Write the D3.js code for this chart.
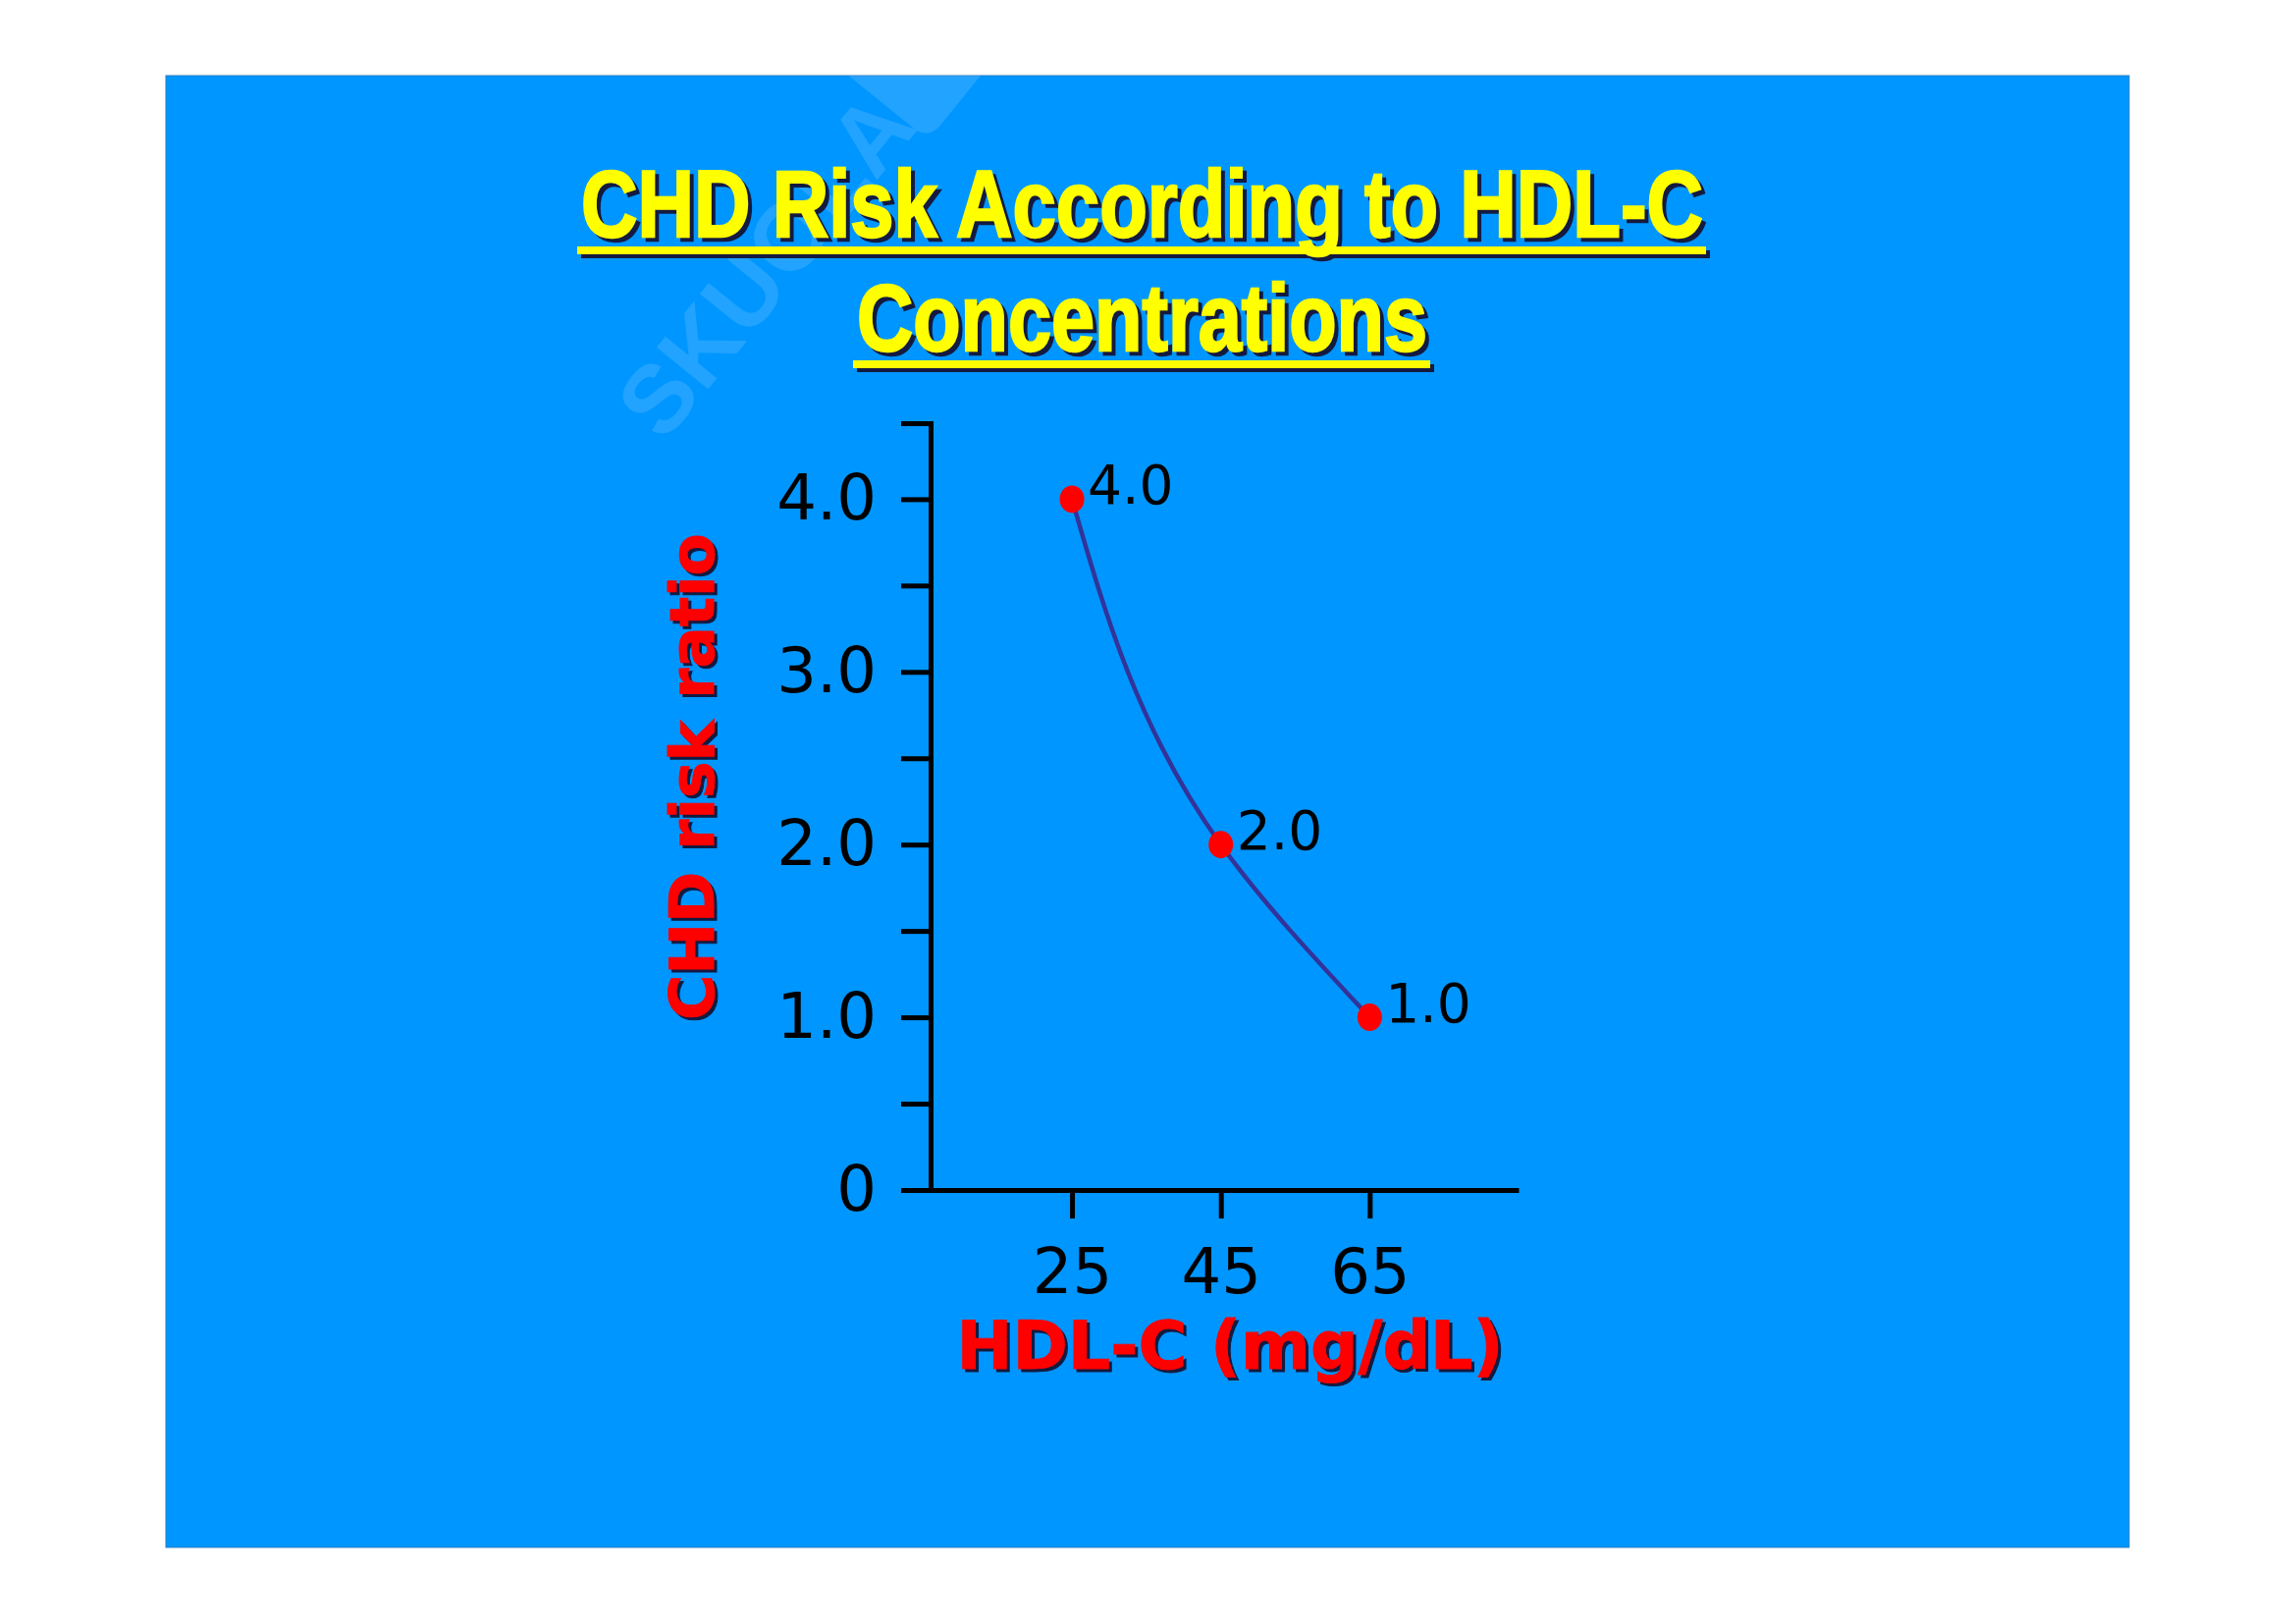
<!DOCTYPE html>
<html>
<head>
<meta charset="utf-8">
<script src="https://cdn.jsdelivr.net/npm/d3@7"></script>
<style>
  body { margin: 0; background: #fff; }
</style>
</head>
<body>
<div id="chart"></div>
<script>
const W = 2339, H = 1653;

// data
const hdl = [25, 45, 65];
const risk = [4.0, 2.0, 1.0];
const pointLabels = ["4.0", "2.0", "1.0"];
const yTicks = [0, 0.5, 1, 1.5, 2, 2.5, 3, 3.5, 4];
const yLabels = {0: "0", 1: "1.0", 2: "2.0", 3: "3.0", 4: "4.0"};
const xTicks = [25, 45, 65];
const titleLines = ["CHD Risk According to HDL-C", "Concentrations"];

const blue = "#0096ff";
const shadow = "#141a40";

let svg = d3.select("#chart")
  .append("svg")
    .attr("width", W)
    .attr("height", H)
    .attr("style", "background-color: #ffffff");

svg.append("clipPath").attr("id", "slideClip")
  .append("rect")
    .attr("x", 169).attr("y", 77)
    .attr("width", 2000).attr("height", 1499);

// slide background
svg.append("rect")
  .attr("x", 169).attr("y", 77)
  .attr("width", 2000).attr("height", 1499)
  .attr("fill", blue)
  .attr("stroke", "#2f7fc0")
  .attr("stroke-width", 1);

// faint watermark
let wm = svg.append("g")
  .attr("clip-path", "url(#slideClip)")
  .append("g")
  .attr("transform", "translate(676,452) rotate(-51)")
  .attr("opacity", 0.13);
wm.append("text")
  .text("SKUOLA")
  .attr("font-family", "Liberation Sans, Arial, sans-serif")
  .attr("font-weight", "bold")
  .attr("font-size", 98)
  .attr("fill", "#fff");
wm.append("rect")
  .attr("x", 410).attr("y", -110)
  .attr("width", 150).attr("height", 125)
  .attr("rx", 18)
  .attr("fill", "#fff");

// title, yellow with dark drop shadow and underline
const titleSpecs = [
  {x0: 592, x1: 1735, base: 241},
  {x0: 873, x1: 1454, base: 357}
];
titleLines.forEach(function(t, i){
  let s = titleSpecs[i];
  let len = s.x1 - s.x0;
  [[4, shadow], [0, "#ffff00"]].forEach(function(p){
    svg.append("text")
      .text(t)
      .attr("x", s.x0 + p[0])
      .attr("y", s.base + p[0])
      .attr("font-family", "Liberation Sans, Arial, sans-serif")
      .attr("font-weight", "bold")
      .attr("font-size", 96)
      .attr("textLength", len)
      .attr("lengthAdjust", "spacingAndGlyphs")
      .attr("fill", p[1])
      .attr("stroke", p[1])
      .attr("stroke-width", 2.5);
    svg.append("rect")
      .attr("x", s.x0 - 4 + p[0])
      .attr("y", s.base + 10 + p[0])
      .attr("width", len + 7)
      .attr("height", 8)
      .attr("fill", p[1]);
  });
});

// scales
let x = d3.scaleLinear().domain([6, 85]).range([948, 1547]);
let y = d3.scaleLinear().domain([0, 4.44]).range([1212, 431]);

// axes
let yAxis = d3.axisLeft(y)
  .tickValues(yTicks)
  .tickSize(30)
  .tickSizeOuter(30)
  .tickPadding(25)
  .tickFormat(d => yLabels[d] || "");
let xAxis = d3.axisBottom(x)
  .tickValues(xTicks)
  .tickSize(29)
  .tickSizeOuter(0)
  .tickPadding(31)
  .tickFormat(d => d);

let gx = svg.append("g").attr("transform", "translate(0,1212)").call(xAxis);
let gy = svg.append("g").attr("transform", "translate(948,0)").call(yAxis);
[gx, gy].forEach(function(g){
  g.select(".domain").attr("stroke", "#000").attr("stroke-width", 5);
  g.selectAll(".tick line").attr("stroke", "#000").attr("stroke-width", 5);
  g.selectAll(".tick text")
    .attr("font-family", "DejaVu Sans, Verdana, sans-serif")
    .attr("font-size", 64)
    .attr("fill", "#000");
});

// axis titles, red with shadow
[[3, shadow], [0, "#ff0000"]].forEach(function(p){
  svg.append("text")
    .text("HDL-C (mg/dL)")
    .attr("x", 1253 + p[0])
    .attr("y", 1394 + p[0])
    .attr("text-anchor", "middle")
    .attr("font-family", "DejaVu Sans, Verdana, sans-serif")
    .attr("font-weight", "bold")
    .attr("font-size", 68)
    .attr("fill", p[1])
    .attr("stroke", p[1])
    .attr("stroke-width", 1);
  svg.append("text")
    .text("CHD risk ratio")
    .attr("transform", "translate(" + (727 + p[0]) + "," + (791 + p[0]) + ") rotate(-90)")
    .attr("text-anchor", "middle")
    .attr("font-family", "DejaVu Sans, Verdana, sans-serif")
    .attr("font-weight", "bold")
    .attr("font-size", 63)
    .attr("fill", p[1])
    .attr("stroke", p[1])
    .attr("stroke-width", 1);
});

// curve through the points
let pts = hdl.map((d, i) => [x(d), y(risk[i])]);
let line = d3.line().curve(d3.curveMonotoneY);
svg.append("path")
  .attr("d", line(pts))
  .attr("fill", "none")
  .attr("stroke", "#333399")
  .attr("stroke-width", 4.5);

svg.selectAll("ellipse.pt")
  .data(hdl)
  .enter()
  .append("ellipse")
    .attr("class", "pt")
    .attr("cx", d => x(d))
    .attr("cy", (d, i) => y(risk[i]))
    .attr("rx", 12.5)
    .attr("ry", 14)
    .attr("fill", "#ff0000");

svg.selectAll("text.pl")
  .data(hdl)
  .enter()
  .append("text")
    .attr("class", "pl")
    .text((d, i) => pointLabels[i])
    .attr("x", d => x(d) + 16)
    .attr("y", (d, i) => y(risk[i]) + 5)
    .attr("font-family", "DejaVu Sans, Verdana, sans-serif")
    .attr("font-size", 55)
    .attr("fill", "#000");
</script>
</body>
</html>
